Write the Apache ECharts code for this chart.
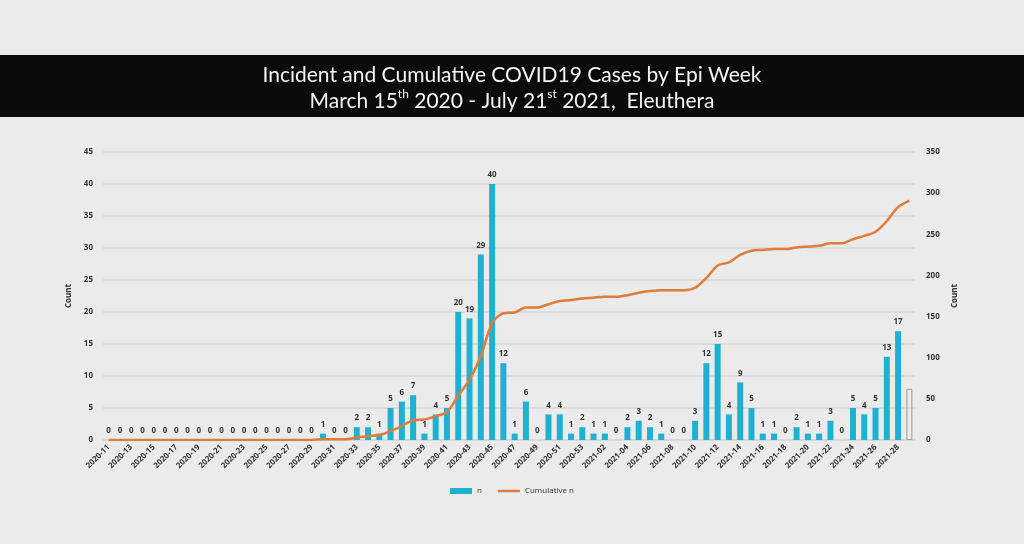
<!DOCTYPE html>
<html>
<head>
<meta charset="utf-8">
<script src="https://cdn.jsdelivr.net/npm/echarts@6/dist/echarts.min.js"></script>
<style>
html,body{margin:0;padding:0;background:#ebebeb;}
#chart{width:1024px;height:544px;}
</style>
</head>
<body>
<div id="chart"></div>
<script>
const weeks = [
  '2020-11','2020-12','2020-13','2020-14','2020-15','2020-16','2020-17','2020-18','2020-19','2020-20',
  '2020-21','2020-22','2020-23','2020-24','2020-25','2020-26','2020-27','2020-28','2020-29','2020-30',
  '2020-31','2020-32','2020-33','2020-34','2020-35','2020-36','2020-37','2020-38','2020-39','2020-40',
  '2020-41','2020-42','2020-43','2020-44','2020-45','2020-46','2020-47','2020-48','2020-49','2020-50',
  '2020-51','2020-52','2020-53',
  '2021-01','2021-02','2021-03','2021-04','2021-05','2021-06','2021-07','2021-08','2021-09','2021-10',
  '2021-11','2021-12','2021-13','2021-14','2021-15','2021-16','2021-17','2021-18','2021-19','2021-20',
  '2021-21','2021-22','2021-23','2021-24','2021-25','2021-26','2021-27','2021-28','2021-29'
];
const incident = [
  0,0,0,0,0,0,0,0,0,0,
  0,0,0,0,0,0,0,0,0,1,
  0,0,2,2,1,5,6,7,1,4,
  5,20,19,29,40,12,1,6,0,4,
  4,1,2,
  1,1,0,2,3,2,1,0,0,3,
  12,15,4,9,5,1,1,0,2,1,
  1,3,0,5,4,5,13,17,8
];
const cumulative = [
  0,0,0,0,0,0,0,0,0,0,
  0,0,0,0,0,0,0,0,0,1,
  1,1,3,5,6,11,17,24,25,29,
  34,54,73,102,142,154,155,161,161,165,
  169,170,172,
  173,174,174,176,179,181,182,182,182,185,
  197,212,216,225,230,231,232,232,234,235,
  236,239,239,244,248,253,266,283,291
];
const partialWeek = '2021-29';

const barColor = '#1fb1d1';
const lineColor = '#e07b39';
const txt = '#333333';

const barData = incident.map((v, i) => weeks[i] === partialWeek
  ? {value: v, itemStyle: {color: 'rgba(0,0,0,0)', borderColor: '#9a9a9a', borderWidth: 1}, label: {show: false}}
  : v);

const chart = echarts.init(document.getElementById('chart'));
chart.setOption({
  backgroundColor: '#ebebeb',
  animation: false,
  graphic: [{
    type: 'rect', z: 0,
    shape: {x: 0, y: 55, width: 1024, height: 62},
    style: {fill: '#0b0b0b'}
  }],
  title: {
    left: 'center', top: 57, z: 10,
    text: '{a|Incident and Cumulative COVID19 Cases by Epi Week}\n{a|March 15}{s|th}{a| 2020 - July 21}{s|st}{a| 2021,  Eleuthera}',
    textStyle: {
      fontWeight: 'normal',
      rich: {
        a: {fontFamily: 'Lato', fontSize: 21, fontWeight: 'normal', color: '#f4f4f4', lineHeight: 26},
        s: {fontFamily: 'Lato', fontSize: 12, fontWeight: 'normal', color: '#f4f4f4', lineHeight: 26, verticalAlign: 'top', padding: [0,0,8,0]}
      }
    }
  },
  legend: {
    bottom: 44, left: 'center',
    itemWidth: 22, itemHeight: 6, itemGap: 16,
    textStyle: {fontFamily: 'Open Sans', fontSize: 8, color: txt},
    data: [
      {name: 'n', icon: 'rect'},
      {name: 'Cumulative n', icon: 'path://M0,0 L44,0 L44,5 L0,5 Z'}
    ]
  },
  grid: {left: 103, right: 109, top: 152, bottom: 104},
  xAxis: {
    type: 'category', data: weeks,
    axisTick: {show: false},
    axisLine: {lineStyle: {color: '#d6d6d6', width: 1.5}},
    axisLabel: {interval: 1, rotate: 45, fontFamily: 'Open Sans', fontSize: 8, fontWeight: 'bold', color: txt, margin: 6}
  },
  yAxis: [{
    type: 'value', min: 0, max: 45, interval: 5,
    name: 'Count', nameLocation: 'middle', nameGap: 28, nameRotate: 90,
    nameTextStyle: {fontFamily: 'Open Sans', fontSize: 8, fontWeight: 'bold', color: txt},
    axisLabel: {fontFamily: 'Open Sans', fontSize: 8, fontWeight: 'bold', color: txt, margin: 10},
    axisLine: {show: false}, axisTick: {show: false},
    splitLine: {lineStyle: {color: '#d6d6d6', width: 1.5}}
  }, {
    type: 'value', min: 0, max: 350, interval: 50,
    name: 'Count', nameLocation: 'middle', nameGap: 33, nameRotate: 90,
    nameTextStyle: {fontFamily: 'Open Sans', fontSize: 8, fontWeight: 'bold', color: txt},
    axisLabel: {fontFamily: 'Open Sans', fontSize: 8, fontWeight: 'bold', color: txt, margin: 11},
    axisLine: {show: false}, axisTick: {show: false},
    splitLine: {show: false}
  }],
  series: [{
    name: 'n', type: 'bar', yAxisIndex: 0,
    data: barData, barWidth: 6,
    itemStyle: {color: barColor},
    label: {show: true, position: 'top', distance: 5, fontFamily: 'Open Sans', fontSize: 8, fontWeight: 'bold', color: txt}
  }, {
    name: 'Cumulative n', type: 'line', yAxisIndex: 1,
    data: cumulative, symbol: 'none', smooth: 0.3,
    lineStyle: {color: lineColor, width: 2.5},
    itemStyle: {color: lineColor}, z: 5
  }]
});
</script>
</body>
</html>
